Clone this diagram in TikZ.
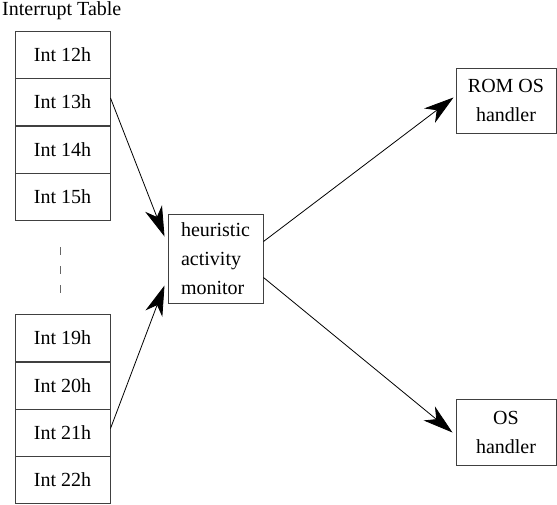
\documentclass[tikz,border=0pt]{standalone}
\usepackage{fontspec}
\setmainfont{Liberation Serif}
\usetikzlibrary{arrows.meta}
\begin{document}
\begin{tikzpicture}[x=1pt,y=-1pt,
  cell/.style={draw=black!75,line width=1pt,minimum width=95pt,minimum height=47pt,inner sep=0pt,font=\fontsize{20}{24}\selectfont},
  box/.style={draw=black!75,line width=1pt,inner sep=0pt,font=\fontsize{20}{29}\selectfont},
  conn/.style={line width=0.8pt,-{Stealth[length=30pt,width=18pt,inset=9pt]}}]
\useasboundingbox (0,0) rectangle (557,504);
\node[anchor=base west,font=\fontsize{20}{24}\selectfont,inner sep=0pt] (title) at (2,15) {Interrupt Table};
\node[cell] (i12) at (62.5,54.5) {Int 12h};
\node[cell] (i13) at (62.5,102) {Int 13h};
\node[cell] (i14) at (62.5,149.5) {Int 14h};
\node[cell] (i15) at (62.5,196.5) {Int 15h};
\node[cell] (i19) at (62.5,338) {Int 19h};
\node[cell] (i20) at (62.5,385.5) {Int 20h};
\node[cell] (i21) at (62.5,432.5) {Int 21h};
\node[cell] (i22) at (62.5,479.5) {Int 22h};
\coordinate (d1) at (60,247);
\coordinate (d2) at (60,294);
\draw[black!60,line width=1pt,dash pattern=on 8pt off 11pt] (d1) -- (d2);
\node[box,minimum width=95pt,minimum height=89pt,align=left] (mon) at (215.5,258.5) {heuristic\\activity\\monitor};
\node[box,minimum width=100pt,minimum height=65pt,align=center] (rom) at (506,100.5) {ROM OS\\handler};
\node[box,minimum width=100pt,minimum height=66pt,align=center] (os) at (506,432) {OS\\handler};
\draw[conn] ([yshift=4pt]i13.east) -- ([xshift=-3pt,yshift=-23pt]mon.north west);
\draw[conn] ([yshift=4pt]i21.east) -- ([xshift=-3pt,yshift=18pt]mon.south west);
\draw[conn] ([yshift=-28pt]mon.north east) -- ([xshift=-2pt,yshift=-30pt]rom.north west);
\draw[conn] ([yshift=26pt]mon.south east) -- ([xshift=-3pt,yshift=-34pt]os.north west);
\end{tikzpicture}
\end{document}
